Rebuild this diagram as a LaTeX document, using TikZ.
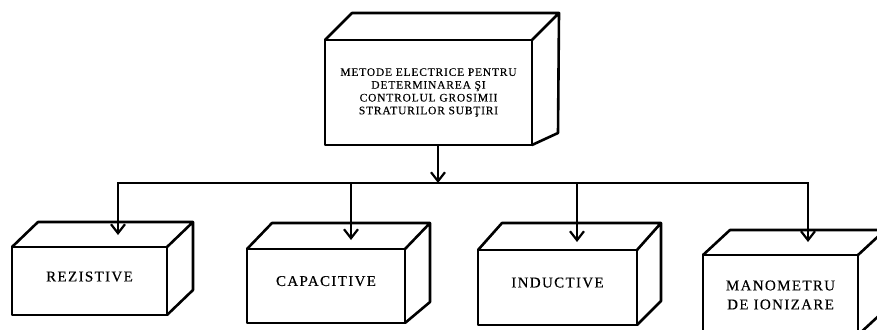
\documentclass[tikz,border=0pt]{standalone}
\usepackage{fontspec}
\setmainfont{Liberation Serif}
\newfontfamily\boxfont[LetterSpace=9,FakeBold=0.3]{Liberation Serif}
\newfontfamily\headfont[LetterSpace=7,FakeBold=0.2]{Liberation Serif}
\usetikzlibrary{calc,arrows.meta}

% top and right faces of a block whose front face is node #1;
% #2 = offset of the back top edge, #3 = offset of the back bottom corner
\newcommand\solidfaces[3]{%
  \draw[boxline] (#1.north west) -- ($(#1.north west)+#2$) -- ($(#1.north east)+#2$)
    -- ($(#1.south east)+#3$) -- (#1.south east)
    (#1.north east) -- ($(#1.north east)+#2$);}

\begin{document}
\begin{tikzpicture}[x=1pt,y=-1pt,
  boxline/.style={line width=2.6pt, line join=round, line cap=round},
  face/.style={draw, boxline, rectangle, inner sep=0pt, outer sep=0pt, align=center},
  wire/.style={line width=2.2pt, line cap=rect},
  feed/.style={wire, -{Straight Barb[length=9pt,width=14pt,line width=2.2pt]}},
  small/.style={font={\headfont\fontsize{11.5}{12.8}\selectfont}},
  big/.style={font={\boxfont\fontsize{15}{19}\selectfont}}]

\useasboundingbox (0,0) rectangle (877,329);
\clip (0,0) rectangle (877,329);
\fill[white] (0,0) rectangle (877,329);

% blocks (front faces)
\node[face, small, minimum width=207pt, minimum height=105pt] (top) at (428.5,92.5)
  {\raisebox{-2pt}{\parbox{200pt}{\centering METODE ELECTRICE PENTRU\\DETERMINAREA ŞI\\CONTROLUL GROSIMII\\STRATURILOR SUBŢIRI}}};
\node[face, big, minimum width=155pt, minimum height=68pt] (rez) at (89.5,281)
  {\raisebox{9pt}{REZISTIVE}};
\node[face, big, minimum width=158pt, minimum height=74pt] (cap) at (326,286)
  {\raisebox{10pt}{CAPACITIVE}};
\node[face, big, minimum width=159pt, minimum height=75pt] (ind) at (557.5,287.5)
  {\raisebox{10pt}{INDUCTIVE}};
\node[face, big, minimum width=155pt, minimum height=80pt] (man) at (780.5,295)
  {MANOMETRU\\DE IONIZARE};

\solidfaces{top}{(27,-27)}{(26,-12)}
\solidfaces{rez}{(26,-25)}{(26,-25)}
\solidfaces{cap}{(25,-26)}{(25,-21)}
\solidfaces{ind}{(24,-27)}{(24,-24)}
\solidfaces{man}{(27,-25)}{(27,-25)}

% distribution bus
\coordinate (j)  at (438,183);
\coordinate (b1) at (118,183);
\coordinate (b2) at (351,183);
\coordinate (b3) at (577,183);
\coordinate (b4) at (808,183);
\coordinate (t1) at (118,235);
\coordinate (t2) at (351,240);
\coordinate (t3) at (577,242);
\coordinate (t4) at (808,242);

\draw[wire] (b1) -- (b4);
\draw[feed] (top.south -| j) -- (j);
\draw[feed] (b1) -- (t1);
\draw[feed] (b2) -- (t2);
\draw[feed] (b3) -- (t3);
\draw[feed] (b4) -- (t4);
\end{tikzpicture}
\end{document}
